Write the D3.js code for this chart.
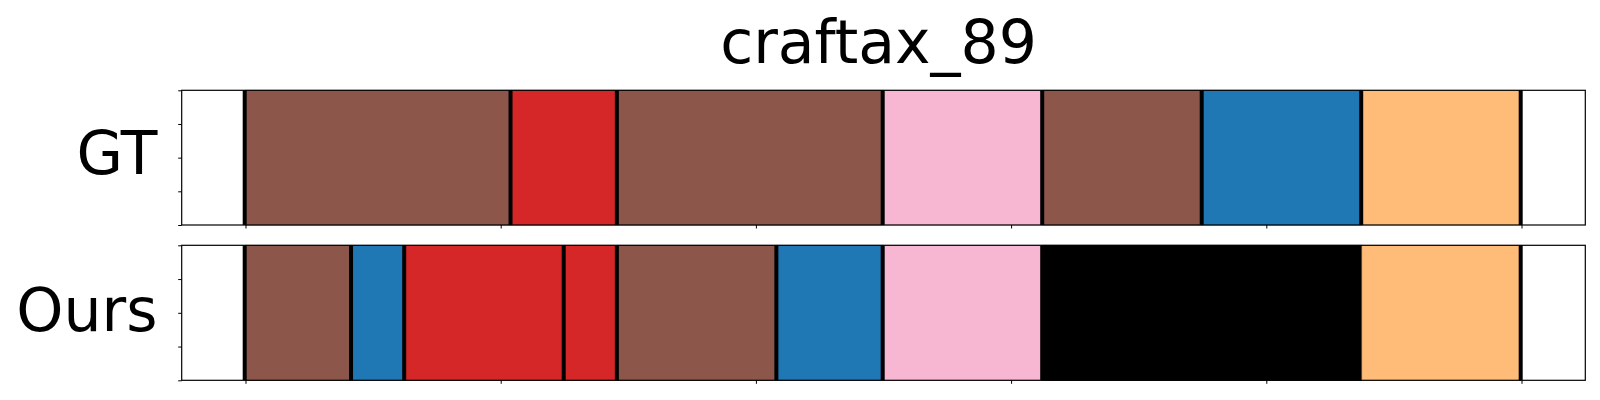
<!DOCTYPE html>
<html>
<head>
<meta charset="utf-8">
<script src="https://cdn.jsdelivr.net/npm/d3@7"></script>
<style>
  html, body { margin: 0; padding: 0; background: #fff; }
  svg { display: block; font-family: "DejaVu Sans", sans-serif; }
</style>
</head>
<body>
<svg id="chart" width="1600" height="400"></svg>
<script>
// ---- data (normalized time 0..1) ----
const title = "craftax_89";
const rowLabels = ["GT", "Ours"];

const gtStarts = [0, 5/24, 7/24, 12/24, 15/24, 18/24, 21/24];
const gtEnds   = [5/24, 7/24, 12/24, 15/24, 18/24, 21/24, 1];
const gtActs   = ["brown", "red", "brown", "pink", "brown", "blue", "orange"];
const gtLines  = [0, 5/24, 7/24, 12/24, 15/24, 18/24, 21/24, 1];

const oursStarts = [0, 2/24, 3/24, 6/24, 7/24, 10/24, 12/24, 15/24, 21/24];
const oursEnds   = [2/24, 3/24, 6/24, 7/24, 10/24, 12/24, 15/24, 21/24, 1];
const oursActs   = ["brown", "blue", "red", "red", "brown", "blue", "pink", "black", "orange"];
const oursLines  = [0, 2/24, 3/24, 6/24, 7/24, 10/24, 12/24, 15/24, 1];

const xTicks = [0, 0.2, 0.4, 0.6, 0.8, 1.0];
const yTicks = [0, 0.25, 0.5, 0.75, 1.0];

const actNames  = ["brown", "red", "pink", "blue", "orange", "black"];
const actColors = ["#8c564b", "#d62728", "#f7b6d2", "#1f77b4", "#ffbb78", "#000000"];

// ---- layout ----
const svg = d3.select("#chart");
const left = 181.7, right = 1585.3;
const panels = [
  { label: rowLabels[0], starts: gtStarts, ends: gtEnds, acts: gtActs, lines: gtLines, top: 90.3, bottom: 225, baseline: 174 },
  { label: rowLabels[1], starts: oursStarts, ends: oursEnds, acts: oursActs, lines: oursLines, top: 245.3, bottom: 380.3, baseline: 330.5 }
];

const x = d3.scaleLinear().domain([-0.05, 1.05]).range([left, right]);
const color = d3.scaleOrdinal().domain(actNames).range(actColors);

svg.append("text")
  .attr("x", (left + right) / 2 - 5)
  .attr("y", 63.3)
  .attr("text-anchor", "middle")
  .attr("font-size", 60)
  .attr("fill", "#000")
  .text(title);

panels.forEach(p => {
  const y = d3.scaleLinear().domain([0, 1]).range([p.bottom, p.top]);
  const g = svg.append("g");
  const segs = p.starts.map((s, i) => ({ s, e: p.ends[i], a: p.acts[i] }));

  g.selectAll("rect.seg").data(segs).enter().append("rect")
    .attr("class", "seg")
    .attr("x", d => x(d.s))
    .attr("y", y(1))
    .attr("width", d => x(d.e) - x(d.s))
    .attr("height", y(0) - y(1))
    .attr("fill", d => color(d.a))
    .attr("stroke", d => d3.color(color(d.a)).darker(0.4))
    .attr("stroke-width", 0.8);

  g.selectAll("line.bd").data(p.lines).enter().append("line")
    .attr("class", "bd")
    .attr("x1", d => x(d) - 0.8).attr("x2", d => x(d) - 0.8)
    .attr("y1", y(1)).attr("y2", y(0))
    .attr("stroke", "#000")
    .attr("stroke-width", 4);

  // axes
  const xAxis = d3.axisBottom(x).tickValues(xTicks).tickFormat("").tickSize(3.5).tickSizeOuter(0);
  const ax = g.append("g").attr("transform", `translate(0,${p.bottom})`).call(xAxis);
  ax.select(".domain").remove();
  ax.selectAll("line").attr("stroke", "#000").attr("stroke-width", 1);

  const yAxis = d3.axisLeft(y).tickValues(yTicks).tickFormat("").tickSize(3.5).tickSizeOuter(0);
  const ay = g.append("g").attr("transform", `translate(${left},0)`).call(yAxis);
  ay.select(".domain").remove();
  ay.selectAll("line").attr("stroke", "#000").attr("stroke-width", 1);

  // frame
  g.append("rect")
    .attr("x", left).attr("y", p.top)
    .attr("width", right - left).attr("height", p.bottom - p.top)
    .attr("fill", "none").attr("stroke", "#000").attr("stroke-width", 1.2);

  svg.append("text")
    .attr("x", 157.5)
    .attr("y", p.baseline)
    .attr("text-anchor", "end")
    .attr("font-size", 60)
    .attr("fill", "#000")
    .text(p.label);
});
</script>
</body>
</html>
